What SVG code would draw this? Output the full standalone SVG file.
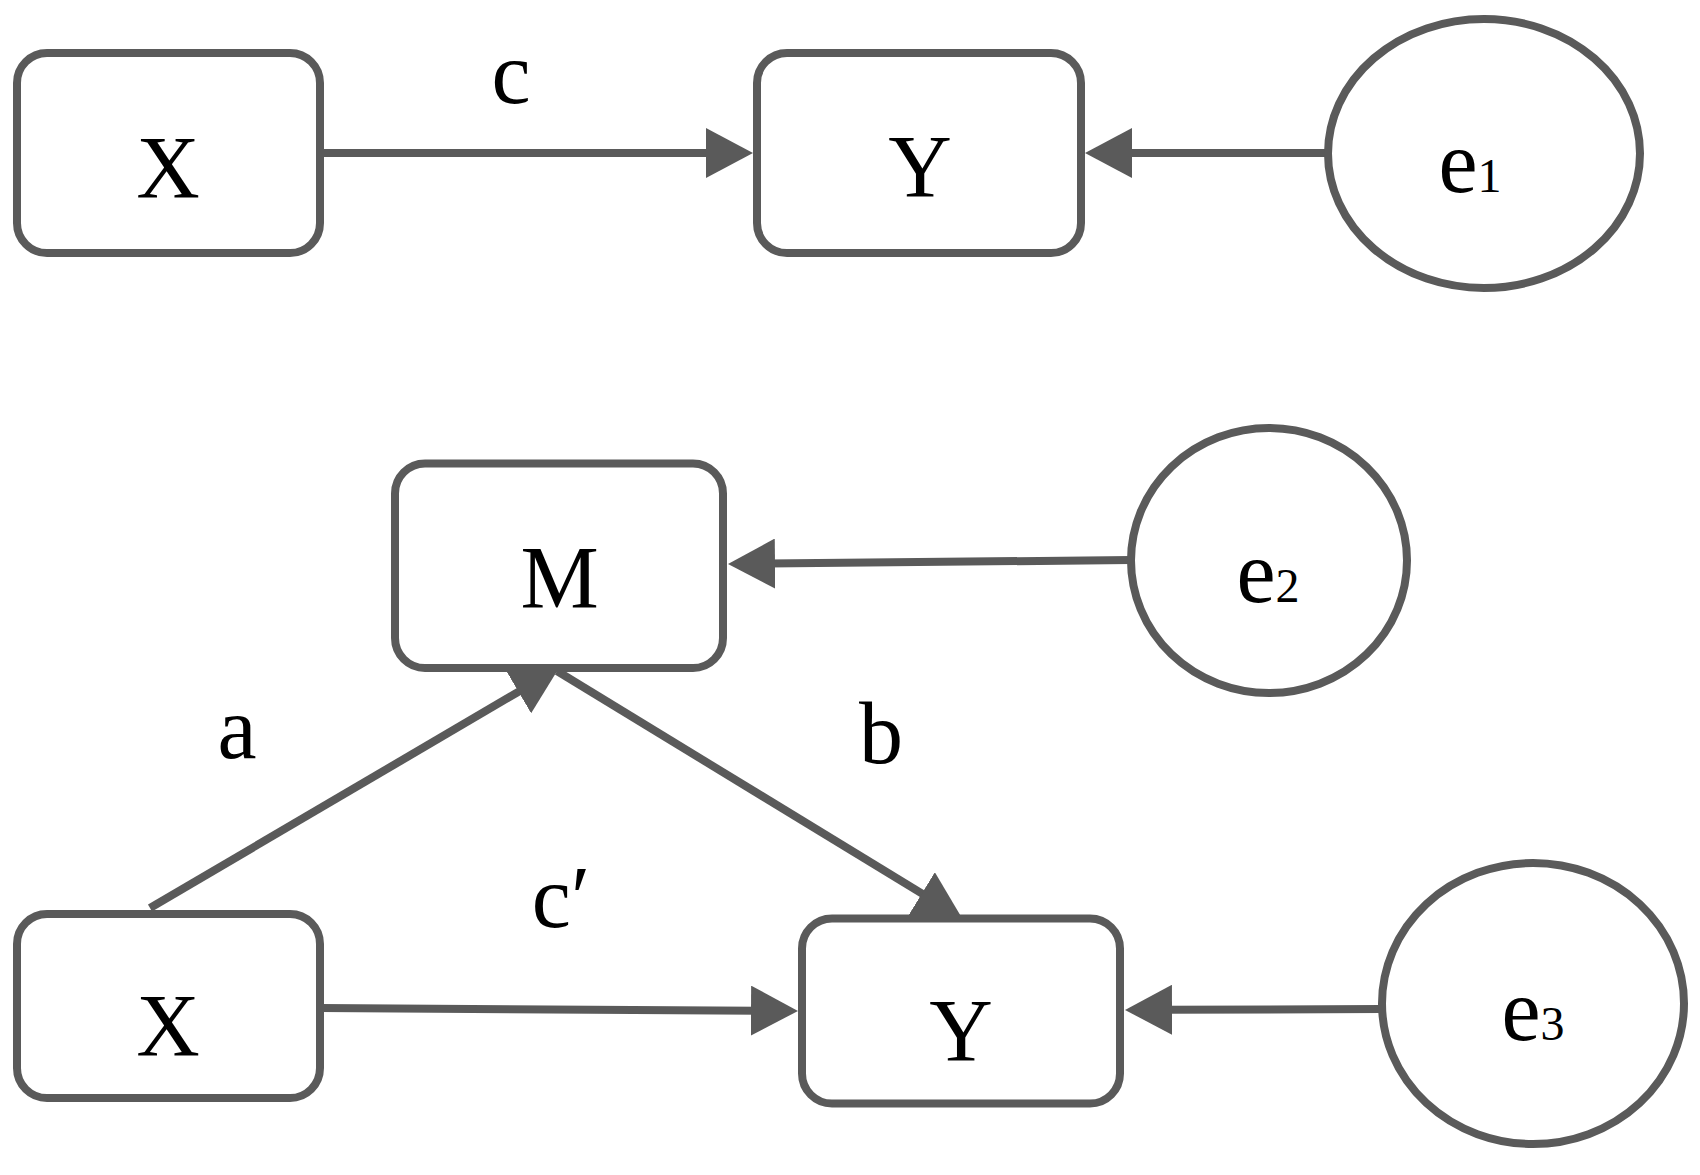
<svg xmlns="http://www.w3.org/2000/svg" width="1700" height="1175" viewBox="0 0 1700 1175">
<style>
.node{fill:#ffffff;stroke:#5a5a5a;stroke-width:8}
.edge{fill:none;stroke:#5a5a5a;stroke-width:8;marker-end:url(#arr)}
.lbl{font-family:"Liberation Serif","Times New Roman",serif;font-size:88px;fill:#000;text-anchor:middle}
.sub{font-size:48px}
</style>
<defs>
<marker id="arr" markerUnits="userSpaceOnUse" markerWidth="50" markerHeight="50" refX="7" refY="25" orient="auto" viewBox="0 0 50 50">
<path d="M0,0 L47,25 L0,50 z" fill="#5a5a5a"/>
</marker>
</defs>
<rect width="1700" height="1175" fill="#ffffff"/>
<g id="connectors">
<line class="edge" x1="320" y1="153" x2="713" y2="153"/>
<line class="edge" x1="1328" y1="153" x2="1125" y2="153"/>
<line class="edge" x1="1131" y1="560" x2="768" y2="563.6"/>
<line class="edge" x1="150" y1="908" x2="524.5" y2="688.2"/>
<line class="edge" x1="557" y1="671" x2="927.8" y2="897.2"/>
<line class="edge" x1="320" y1="1008" x2="758" y2="1010.7"/>
<line class="edge" x1="1382" y1="1009" x2="1165" y2="1009.8"/>
</g>
<g id="labels">
<text class="lbl" x="511" y="103">c</text>
<text class="lbl" x="237" y="758">a</text>
<text class="lbl" x="881" y="763">b</text>
<text class="lbl" x="561" y="927">c′</text>
</g>
<g id="node-X1">
<rect class="node" x="17" y="53" width="303" height="200" rx="30" ry="30"/>
<text class="lbl" x="168" y="197">X</text>
</g>
<g id="node-Y1">
<rect class="node" x="757" y="53" width="324" height="200" rx="30" ry="30"/>
<text class="lbl" x="920" y="196">Y</text>
</g>
<g id="node-e1">
<ellipse class="node" cx="1484" cy="153.5" rx="156" ry="134.5"/>
<text class="lbl" x="1470" y="192">e<tspan class="sub">1</tspan></text>
</g>
<g id="node-M">
<rect class="node" x="395" y="463.5" width="328" height="204.5" rx="30" ry="30"/>
<text class="lbl" x="559.5" y="607">M</text>
</g>
<g id="node-e2">
<ellipse class="node" cx="1269" cy="560.5" rx="138" ry="132.5"/>
<text class="lbl" x="1268" y="602">e<tspan class="sub">2</tspan></text>
</g>
<g id="node-X2">
<rect class="node" x="17" y="914" width="303" height="184" rx="30" ry="30"/>
<text class="lbl" x="168" y="1055">X</text>
</g>
<g id="node-Y2">
<rect class="node" x="802" y="918.5" width="318" height="185" rx="30" ry="30"/>
<text class="lbl" x="961" y="1060">Y</text>
</g>
<g id="node-e3">
<ellipse class="node" cx="1533" cy="1003.5" rx="151" ry="140.5"/>
<text class="lbl" x="1533" y="1040">e<tspan class="sub">3</tspan></text>
</g>
</svg>
